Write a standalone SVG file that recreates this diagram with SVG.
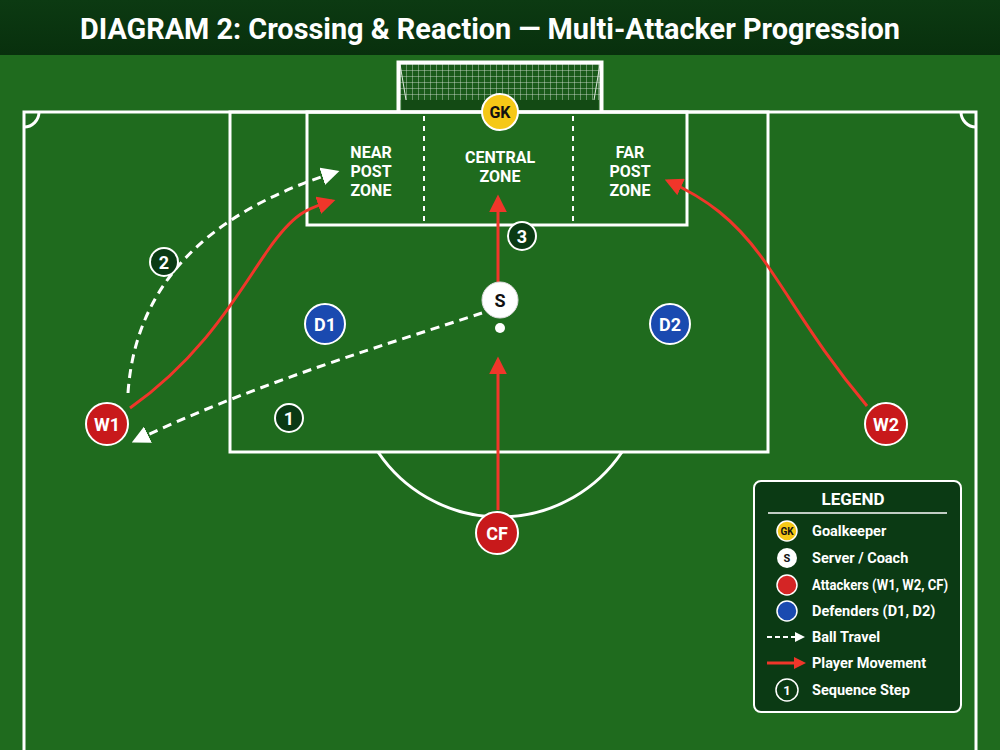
<svg xmlns="http://www.w3.org/2000/svg" width="1000" height="750" viewBox="0 0 1000 750">
<style>
.line{fill:none;stroke:#fff;stroke-width:3}
.dashv{stroke:#fff;stroke-width:2;stroke-dasharray:5 5}
.zone{font-family:Roboto,"Liberation Sans",sans-serif;font-weight:bold;font-size:16px;fill:#fff;text-anchor:middle}
.lbl{font-family:Roboto,"Liberation Sans",sans-serif;font-weight:bold;text-anchor:middle;dominant-baseline:central}
.leg{font-family:Roboto,"Liberation Sans",sans-serif;font-weight:bold;font-size:14.5px;fill:#fff;dominant-baseline:central}
.ball{fill:none;stroke:#fff;stroke-width:3;stroke-dasharray:9 6}
.move{fill:none;stroke:#f0362a;stroke-width:3}
.seq circle{fill:#0b3a14;stroke:#fff;stroke-width:2}
.seq text{fill:#fff;font-size:18px}
</style>
<defs>
<marker id="ah-w" viewBox="0 0 10 10" refX="8" refY="5" markerWidth="6" markerHeight="6" orient="auto" markerUnits="strokeWidth"><path d="M0,0 L10,5 L0,10 z" fill="#fff"/></marker>
<marker id="ah-r" viewBox="0 0 10 10" refX="8" refY="5" markerWidth="6" markerHeight="6" orient="auto" markerUnits="strokeWidth"><path d="M0,0 L10,5 L0,10 z" fill="#f0362a"/></marker>
<pattern id="net" width="6" height="6" patternUnits="userSpaceOnUse" x="400" y="64"><path d="M0,0 H6 M0,0 V6" stroke="#dfe8df" stroke-width="0.8" fill="none"/></pattern>
<linearGradient id="title" x1="0" y1="0" x2="0" y2="1"><stop offset="0" stop-color="#0c3a12"/><stop offset="1" stop-color="#08300d"/></linearGradient>
</defs>
<rect width="1000" height="750" fill="#1f6b1e"/>
<rect width="1000" height="55" fill="url(#title)"/>
<text x="490" y="39" font-family="Roboto,'Liberation Sans',sans-serif" font-weight="bold" font-size="29" fill="#fff" text-anchor="middle" textLength="820" lengthAdjust="spacingAndGlyphs">DIAGRAM 2: Crossing &amp; Reaction — Multi-Attacker Progression</text>

<g id="pitch">
<rect x="400" y="64" width="200" height="46" fill="#1a5a1a"/>
<rect x="400" y="64" width="200" height="36" fill="url(#net)"/>
<rect x="402" y="100" width="196" height="10" fill="#134a14"/>
<path d="M400,64 L406,100 M600,64 L594,100" stroke="#dfe8df" stroke-width="1"/>
<path d="M398.5,112 V62.5 H601.5 V112" fill="none" stroke="#fff" stroke-width="4"/>
<path class="line" d="M24,750 V112 H976 V750"/>
<path class="line" d="M24,127 A15 15 0 0 0 39,112 M961,112 A15 15 0 0 0 976,127"/>
<rect class="line" x="230" y="112" width="538" height="340"/>
<rect class="line" x="307" y="112" width="380" height="113"/>
<line class="dashv" x1="424" y1="116" x2="424" y2="222"/>
<line class="dashv" x1="573" y1="116" x2="573" y2="222"/>
<path class="line" d="M378,452 A147 147 0 0 0 622,452"/>
<circle cx="500" cy="328" r="5" fill="#fff"/>
</g>

<g id="zones">
<text class="zone" x="371" y="158">NEAR</text>
<text class="zone" x="371" y="177">POST</text>
<text class="zone" x="371" y="196">ZONE</text>
<text class="zone" x="500" y="163">CENTRAL</text>
<text class="zone" x="500" y="182">ZONE</text>
<text class="zone" x="630" y="158">FAR</text>
<text class="zone" x="630" y="177">POST</text>
<text class="zone" x="630" y="196">ZONE</text>
</g>

<g id="connectors">
<path class="ball" d="M482,313 C400,340 250,385 135,441" marker-end="url(#ah-w)"/>
<path class="ball" d="M128,393 C135,290 200,215 336,172" marker-end="url(#ah-w)"/>
<path class="move" d="M130,408 C205,355 240,290 268,250 S310,208 332,201" marker-end="url(#ah-r)"/>
<path class="move" d="M867,406 C820,350 795,305 765,262 S705,198 668,181" marker-end="url(#ah-r)"/>
<path class="move" d="M498,510 V360" marker-end="url(#ah-r)"/>
<path class="move" d="M498,282 V198" marker-end="url(#ah-r)"/>
</g>

<g id="GK"><circle cx="500" cy="112" r="18" fill="#f5c817" stroke="#fff" stroke-width="2"/><text class="lbl" x="500" y="112" font-size="16" fill="#111">GK</text></g>
<g id="S"><circle cx="500" cy="300" r="18" fill="#fff" stroke="#ddd" stroke-width="1"/><text class="lbl" x="500" y="300" font-size="18" fill="#111">S</text></g>
<g id="D1"><circle cx="325" cy="324" r="20" fill="#1a4ab0" stroke="#fff" stroke-width="2"/><text class="lbl" x="325" y="324" font-size="18" fill="#fff">D1</text></g>
<g id="D2"><circle cx="670" cy="324" r="20" fill="#1a4ab0" stroke="#fff" stroke-width="2"/><text class="lbl" x="670" y="324" font-size="18" fill="#fff">D2</text></g>
<g id="W1"><circle cx="107" cy="424" r="21" fill="#c8191b" stroke="#fff" stroke-width="2"/><text class="lbl" x="107" y="424" font-size="18" fill="#fff">W1</text></g>
<g id="W2"><circle cx="886" cy="424" r="21" fill="#c8191b" stroke="#fff" stroke-width="2"/><text class="lbl" x="886" y="424" font-size="18" fill="#fff">W2</text></g>
<g id="CF"><circle cx="497" cy="533" r="21" fill="#c8191b" stroke="#fff" stroke-width="2"/><text class="lbl" x="497" y="533" font-size="18" fill="#fff">CF</text></g>

<g id="step1" class="seq"><circle cx="289" cy="418" r="14"/><text class="lbl" x="289" y="418">1</text></g>
<g id="step2" class="seq"><circle cx="164" cy="262" r="14"/><text class="lbl" x="164" y="262">2</text></g>
<g id="step3" class="seq"><circle cx="522" cy="236" r="14"/><text class="lbl" x="522" y="236">3</text></g>

<g id="legend">
<rect x="754" y="481" width="207" height="231" rx="7" fill="#0b3a14" stroke="#fff" stroke-width="2"/>
<text x="853" y="505" font-family="Roboto,'Liberation Sans',sans-serif" font-weight="bold" font-size="17" fill="#fff" text-anchor="middle">LEGEND</text>
<line x1="768" y1="513" x2="947" y2="513" stroke="#fff" stroke-width="1.5"/>
<circle cx="787" cy="531" r="10" fill="#f5c817" stroke="#fff" stroke-width="1.5"/><text class="lbl" x="787" y="531" font-size="10" fill="#111">GK</text>
<text class="leg" x="812" y="531">Goalkeeper</text>
<circle cx="787" cy="558" r="10" fill="#fff"/><text class="lbl" x="787" y="558" font-size="11" fill="#111">S</text>
<text class="leg" x="812" y="558">Server / Coach</text>
<circle cx="787" cy="585" r="10" fill="#d42525" stroke="#fff" stroke-width="1.5"/>
<text class="leg" x="812" y="585" textLength="136" lengthAdjust="spacingAndGlyphs">Attackers (W1, W2, CF)</text>
<circle cx="787" cy="611" r="10" fill="#1a4ab0" stroke="#fff" stroke-width="1.5"/>
<text class="leg" x="812" y="611">Defenders (D1, D2)</text>
<line x1="767" y1="637" x2="796" y2="637" stroke="#fff" stroke-width="2" stroke-dasharray="5 3"/>
<path d="M795,632 L805,637 L795,642 z" fill="#fff"/>
<text class="leg" x="812" y="637">Ball Travel</text>
<line x1="767" y1="663" x2="796" y2="663" stroke="#f0362a" stroke-width="3"/>
<path d="M794,657 L806,663 L794,669 z" fill="#f0362a"/>
<text class="leg" x="812" y="663">Player Movement</text>
<circle cx="787" cy="690" r="11" fill="none" stroke="#fff" stroke-width="1.5"/><text class="lbl" x="787" y="690" font-size="13" fill="#fff">1</text>
<text class="leg" x="812" y="690">Sequence Step</text>
</g>
</svg>
